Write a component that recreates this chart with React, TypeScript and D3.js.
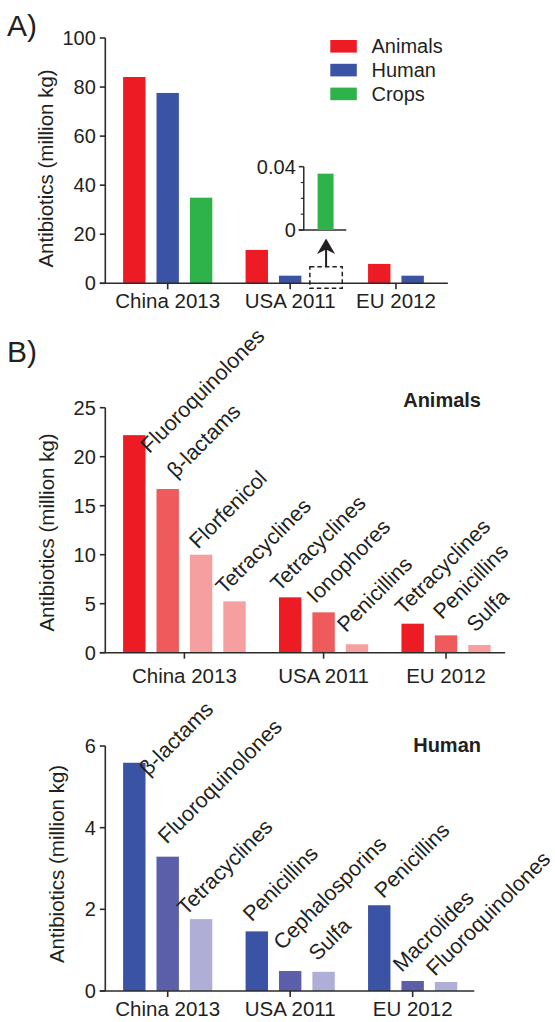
import React from "react";
import * as d3 from "d3";

// ---------- DATA ----------
const categories = ["China 2013", "USA 2011", "EU 2012"];

// Panel A: total use by sector (million kg); null = not reported
const sectorNames = ["Animals", "Human", "Crops"];
const sectorAnimals = [84.1, 13.6, 7.9];
const sectorHuman = [77.6, 3.1, 3.1];
const sectorCrops = [34.9, 0.0356, null];
const sectorTicks = [0, 20, 40, 60, 80, 100];
const insetTicks = [0, 0.04];
const insetMinorTicks = [0.01, 0.02, 0.03];

// Panel B: animals, top classes per region
const animalClasses = [
  ["Fluoroquinolones", "β-lactams", "Florfenicol", "Tetracyclines"],
  ["Tetracyclines", "Ionophores", "Penicillins"],
  ["Tetracyclines", "Penicillins", "Sulfa"],
];
const animalValues = [
  [22.2, 16.7, 10.0, 5.24],
  [5.65, 4.12, 0.86],
  [2.96, 1.77, 0.79],
];
const animalTicks = [0, 5, 10, 15, 20, 25];

// Panel B: human, top classes per region
const humanClasses = [
  ["β-lactams", "Fluoroquinolones", "Tetracyclines"],
  ["Penicillins", "Cephalosporins", "Sulfa"],
  ["Penicillins", "Macrolides", "Fluoroquinolones"],
];
const humanValues = [
  [5.59, 3.29, 1.76],
  [1.46, 0.49, 0.47],
  [2.1, 0.245, 0.22],
];
const humanTicks = [0, 2, 4, 6];

// ---------- STYLE / LAYOUT ----------
const FONT = "'Liberation Sans', Arial, Helvetica, sans-serif";
const INK = "#231f20";
const AXIS = "#2b2b2b";
const sectorColors = ["#ED1C24", "#3A53A4", "#2DB34A"];
const animalShades = ["#ED1C24", "#EF5A5C", "#F59FA1", "#F59FA1"];
const humanShades = ["#3A53A4", "#5B5FA9", "#AEAED7"];

// manual label nudges (dx, dy) relative to bar top centre
const animalLabelNudge = [
  [15, 19], [8, -10], [-3, -5], [-10, -6],
  [-11, -5], [-8, -8], [-11, -11],
  [-9, -8], [-4, -15], [-4, -12],
];
const humanLabelNudge = [
  [14, 14], [-1, -12], [-15, -3],
  [-5, -9], [-8, -20], [-6, -10],
  [4, -6], [-11, -8], [-11, -5],
];

const BAR_W = 22.4;
const PITCH = 33.4;
const GROUP_EXTRA = 0.667;
const AXIS_X = 105.3;
const FIRST_BAR = 123.1;
const LABEL_FS = 21.5;

type Slot = { g: number; k: number; u: number; v: number };

function layoutSlots(groups: (number | null)[][]): Slot[] {
  const slots: Slot[] = [];
  let idx = 0;
  groups.forEach((vals, g) => {
    vals.forEach((v, k) => {
      if (v === null) return;
      slots.push({ g, k, u: idx + g * GROUP_EXTRA, v });
      idx++;
    });
  });
  return slots;
}

const xSlot = d3.scaleLinear().domain([0, 1]).range([FIRST_BAR, FIRST_BAR + PITCH]);

function groupCenters(slots: Slot[]) {
  return categories.map((_, g) => {
    const s = slots.filter((d) => d.g === g);
    const a = xSlot(s[0].u);
    const b = xSlot(s[s.length - 1].u) + BAR_W;
    return (a + b) / 2;
  });
}

function Axes({
  y, ticks, xEnd, centers, labelDy,
}: {
  y: d3.ScaleLinear<number, number>;
  ticks: number[];
  xEnd: number;
  centers: number[];
  labelDy: number;
}) {
  const y0 = y(0);
  const top = y(ticks[ticks.length - 1]);
  return (
    <g>
      <line x1={AXIS_X} x2={AXIS_X} y1={top} y2={y0} stroke={AXIS} strokeWidth={1.6} />
      <line x1={AXIS_X - 5.5} x2={xEnd} y1={y0} y2={y0} stroke={AXIS} strokeWidth={1.6} />
      {ticks.map((t) => (
        <g key={t}>
          <line x1={AXIS_X - 5.5} x2={AXIS_X} y1={y(t)} y2={y(t)} stroke={AXIS} strokeWidth={1.6} />
          <text x={AXIS_X - 9.5} y={y(t) + 7} textAnchor="end" fontSize={20} fill={INK}>
            {t}
          </text>
        </g>
      ))}
      {centers.map((c, i) => (
        <g key={i}>
          <line x1={c} x2={c} y1={y0} y2={y0 + 6} stroke={AXIS} strokeWidth={1.6} />
          <text x={c} y={y0 + labelDy} textAnchor="middle" fontSize={20.5} fill={INK}>
            {categories[i]}
          </text>
        </g>
      ))}
    </g>
  );
}

function PanelA() {
  const groups = categories.map((_, i) => [sectorAnimals[i], sectorHuman[i], sectorCrops[i]]);
  const slots = layoutSlots(groups);
  const y = d3.scaleLinear().domain([0, 100]).range([283.3, 38]);
  const centers = groupCenters(slots);
  const lastEnd = xSlot(slots[slots.length - 1].u) + BAR_W;
  const cropSlot = slots.find((s) => s.g === 1 && s.k === 2)!;
  const cx = xSlot(cropSlot.u) + BAR_W / 2 + 2.5;
  const yIn = d3.scaleLinear().domain([0, 0.04]).range([230, 166.7]);
  const inX = cx - 22.3;
  return (
    <g>
      <text x={7} y={36} fontSize={30} fill={INK}>A)</text>
      <text
        transform={`translate(53,168.5) rotate(-90)`}
        textAnchor="middle"
        fontSize={20.5}
        fill={INK}
      >
        Antibiotics (million kg)
      </text>
      {slots.map((s, i) => (
        <rect
          key={i}
          x={xSlot(s.u)}
          y={y(s.v)}
          width={BAR_W}
          height={y(0) - y(s.v)}
          fill={sectorColors[s.k]}
        />
      ))}
      <Axes y={y} ticks={sectorTicks} xEnd={lastEnd + 24} centers={centers} labelDy={25} />
      {/* dashed box around tiny crops bar */}
      <rect
        x={cx - 16.2}
        y={266.7}
        width={32.4}
        height={21.6}
        fill="none"
        stroke={INK}
        strokeWidth={1.5}
        strokeDasharray="4.5 3"
      />
      {/* arrow */}
      <line x1={cx} x2={cx} y1={266.7} y2={249} stroke={INK} strokeWidth={2} />
      <path
        d={`M${cx},${238.5} L${cx + 9},${254} L${cx},${249.5} L${cx - 9},${254} Z`}
        fill={INK}
      />
      {/* inset */}
      <line x1={inX} x2={inX} y1={yIn(0.04)} y2={yIn(0)} stroke={AXIS} strokeWidth={1.5} />
      <line x1={inX - 5} x2={inX + 42.5} y1={yIn(0)} y2={yIn(0)} stroke={AXIS} strokeWidth={1.5} />
      {insetTicks.map((t) => (
        <g key={t}>
          <line x1={inX - 5} x2={inX} y1={yIn(t)} y2={yIn(t)} stroke={AXIS} strokeWidth={1.5} />
          <text x={inX - 8} y={yIn(t) + 7} textAnchor="end" fontSize={20} fill={INK}>
            {t === 0 ? "0" : t.toFixed(2)}
          </text>
        </g>
      ))}
      {insetMinorTicks.map((t) => (
        <line key={t} x1={inX - 3} x2={inX} y1={yIn(t)} y2={yIn(t)} stroke={AXIS} strokeWidth={1.2} />
      ))}
      <rect
        x={inX + 13.8}
        y={yIn(cropSlot.v)}
        width={16}
        height={yIn(0) - yIn(cropSlot.v)}
        fill={sectorColors[2]}
      />
      {/* legend */}
      {sectorNames.map((n, i) => (
        <g key={n}>
          <rect x={330.3} y={40 + i * 23.8} width={26.5} height={12.6} fill={sectorColors[i]} />
          <text x={371.5} y={40 + i * 23.8 + 13.2} fontSize={20} fill={INK}>{n}</text>
        </g>
      ))}
    </g>
  );
}

function ClassPanel({
  values, classes, shades, nudges, y, ticks, title, titleY, axisTitleX, axisTitleY, xEndPad, labelDy,
}: {
  values: number[][];
  classes: string[][];
  shades: string[];
  nudges: number[][];
  y: d3.ScaleLinear<number, number>;
  ticks: number[];
  title: string;
  titleY: number;
  axisTitleX: number;
  axisTitleY: number;
  xEndPad: number;
  labelDy: number;
}) {
  const slots = layoutSlots(values);
  const centers = groupCenters(slots);
  const lastEnd = xSlot(slots[slots.length - 1].u) + BAR_W;
  return (
    <g>
      <text
        transform={`translate(${axisTitleX},${axisTitleY}) rotate(-90)`}
        textAnchor="middle"
        fontSize={20.5}
        fill={INK}
      >
        Antibiotics (million kg)
      </text>
      {slots.map((s, i) => {
        const x = xSlot(s.u);
        const top = y(s.v);
        const [dx, dy] = nudges[i];
        return (
          <g key={i}>
            <rect x={x} y={top} width={BAR_W} height={y(0) - top} fill={shades[s.k]} />
            <text
              transform={`translate(${x + BAR_W / 2 + dx},${top + dy}) rotate(-45)`}
              fontSize={LABEL_FS}
              fill={INK}
            >
              {classes[s.g][s.k]}
            </text>
          </g>
        );
      })}
      <Axes y={y} ticks={ticks} xEnd={lastEnd + xEndPad} centers={centers} labelDy={labelDy} />
      <text x={481} y={titleY} textAnchor="end" fontSize={20} fontWeight="bold" fill={INK}>
        {title}
      </text>
    </g>
  );
}

export default function App() {
  const yAnimals = d3.scaleLinear().domain([0, 25]).range([652.7, 407.7]);
  const yHuman = d3.scaleLinear().domain([0, 6]).range([991, 746]);
  return (
    <svg
      width={555}
      height={1022}
      viewBox="0 0 555 1022"
      style={{ position: "absolute", left: 0, top: 0, background: "#fff" }}
      fontFamily={FONT}
    >
      <rect width={555} height={1022} fill="#fff" />
      <PanelA />
      <text x={7} y={362} fontSize={30} fill={INK}>B)</text>
      <ClassPanel
        values={animalValues}
        classes={animalClasses}
        shades={animalShades}
        nudges={animalLabelNudge}
        y={yAnimals}
        ticks={animalTicks}
        title="Animals"
        titleY={406.7}
        axisTitleX={53.5}
        axisTitleY={532.5}
        xEndPad={14.5}
        labelDy={30.6}
      />
      <ClassPanel
        values={humanValues}
        classes={humanClasses}
        shades={humanShades}
        nudges={humanLabelNudge}
        y={yHuman}
        ticks={humanTicks}
        title="Human"
        titleY={751.7}
        axisTitleX={63.5}
        axisTitleY={864}
        xEndPad={17}
        labelDy={25}
      />
    </svg>
  );
}
